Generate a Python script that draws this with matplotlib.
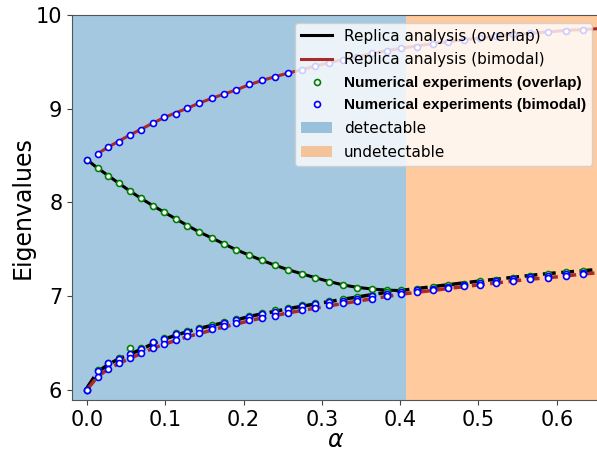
import matplotlib
matplotlib.use("Agg")
import matplotlib.pyplot as plt

# alpha grid of the numerical experiments
alpha = [0.0, 0.0135, 0.0272, 0.0409, 0.0549, 0.0690, 0.0838, 0.0984, 0.1132,
         0.1281, 0.1435, 0.1592, 0.1745, 0.1905, 0.2069, 0.2230, 0.2396, 0.2567,
         0.2741, 0.2916, 0.3091, 0.3271, 0.3454, 0.3641, 0.3828, 0.4016, 0.4216,
         0.4416, 0.4610, 0.4812, 0.5019, 0.5230, 0.5447, 0.5664, 0.5890, 0.6117,
         0.6335]

# upper eigenvalue (bimodal)
upper_bimodal = [8.451, 8.518, 8.596, 8.649, 8.724, 8.777, 8.845, 8.916, 8.948,
                 9.005, 9.065, 9.118, 9.155, 9.200, 9.264, 9.304, 9.336, 9.378,
                 9.410, 9.456, 9.491, 9.520, 9.555, 9.592, 9.616, 9.645, 9.662,
                 9.694, 9.709, 9.733, 9.752, 9.776, 9.794, 9.811, 9.816, 9.833,
                 9.843]

# middle eigenvalue (overlap), only in the detectable phase
middle_overlap = [8.454, 8.366, 8.284, 8.202, 8.116, 8.042, 7.964, 7.897, 7.825,
                  7.751, 7.679, 7.619, 7.559, 7.487, 7.441, 7.383, 7.327, 7.281,
                  7.239, 7.193, 7.150, 7.114, 7.090, 7.079, 7.065]

# lower eigenvalues, numerical experiments
lower_overlap = [6.00, 6.21, 6.29, 6.34, 6.44, 6.44, 6.51, 6.55, 6.60, 6.63, 6.66,
                 6.69, 6.72, 6.76, 6.79, 6.82, 6.85, 6.87, 6.90, 6.93, 6.95, 6.969,
                 6.990, 7.015, 7.040, 7.061, 7.076, 7.097, 7.114, 7.132, 7.157,
                 7.175, 7.196, 7.214, 7.231, 7.253, 7.268]
lower_bimodal_a = [6.00, 6.20, 6.28, 6.33, 6.38, 6.43, 6.51, 6.54, 6.59, 6.62, 6.65,
                   6.67, 6.71, 6.74, 6.78, 6.81, 6.83, 6.86, 6.89, 6.92, 6.94, 6.95,
                   6.97, 6.995, 7.02, 7.04, 7.06, 7.08, 7.10, 7.12, 7.14, 7.16, 7.18,
                   7.20, 7.215, 7.235, 7.25]
lower_bimodal_b = [6.00, 6.14, 6.22, 6.29, 6.34, 6.39, 6.45, 6.49, 6.53, 6.57, 6.61,
                   6.65, 6.68, 6.71, 6.74, 6.77, 6.79, 6.82, 6.85, 6.87, 6.90, 6.926,
                   6.951, 6.972, 6.997, 7.022, 7.044, 7.061, 7.083, 7.104, 7.122,
                   7.140, 7.164, 7.182, 7.196, 7.217, 7.236]

# replica analysis curves
alpha_th = alpha + [0.655]
upper_th = [8.451, 8.52, 8.59, 8.655, 8.72, 8.78, 8.845, 8.905, 8.955, 9.005, 9.06,
            9.11, 9.155, 9.20, 9.255, 9.30, 9.34, 9.38, 9.415, 9.455, 9.49, 9.525,
            9.555, 9.59, 9.62, 9.645, 9.67, 9.695, 9.715, 9.735, 9.755, 9.775,
            9.79, 9.805, 9.82, 9.835, 9.845, 9.855]
middle_th = [8.454, 8.366, 8.284, 8.202, 8.120, 8.042, 7.966, 7.895, 7.825, 7.753,
             7.683, 7.620, 7.558, 7.494, 7.437, 7.382, 7.330, 7.281, 7.238, 7.195,
             7.155, 7.118, 7.092, 7.075, 7.063, 7.058]
lower_ov_th = [6.02, 6.19, 6.27, 6.33, 6.38, 6.43, 6.49, 6.54, 6.58, 6.62, 6.655,
               6.685, 6.715, 6.745, 6.78, 6.81, 6.835, 6.865, 6.89, 6.915, 6.94,
               6.965, 6.99, 7.015, 7.04, 7.06, 7.08, 7.10, 7.12, 7.14, 7.16, 7.18,
               7.20, 7.22, 7.24, 7.255, 7.27, 7.285]
lower_bi_th = [6.0, 6.14, 6.22, 6.28, 6.335, 6.385, 6.44, 6.485, 6.525, 6.565, 6.60,
               6.635, 6.67, 6.70, 6.735, 6.765, 6.79, 6.82, 6.845, 6.87, 6.895, 6.92,
               6.945, 6.97, 6.995, 7.02, 7.04, 7.06, 7.08, 7.10, 7.12, 7.14, 7.16,
               7.18, 7.195, 7.215, 7.235, 7.25]

alpha_c = 0.407

fig = plt.figure(figsize=(5.97, 4.53), dpi=100)
ax = fig.add_axes([72 / 597, 53 / 453, 528 / 597, 385 / 453])

ax.axvspan(-0.1, alpha_c, color="tab:blue", alpha=0.4, lw=0, label="detectable")
ax.axvspan(alpha_c, 1.0, color="tab:orange", alpha=0.4, lw=0, label="undetectable")

red = "#aa2a2a"
mk = dict(ls="none", marker="o", ms=4.3, mew=1.2, mfc="white")

ax.plot(alpha[:len(middle_th)], middle_th, color="black", lw=2.2,
        label="Replica analysis (overlap)")
ax.plot(alpha_th[1:], upper_th[1:], color=red, lw=2.2,
        label="Replica analysis (bimodal)")
ax.plot(alpha_th, lower_ov_th, color="black", lw=2.5, ls="--")
ax.plot(alpha_th, lower_bi_th, color=red, lw=2.5, ls="--")

ax.plot(alpha[:len(middle_overlap)], middle_overlap, mec="green", **mk,
        label="Numerical experiments (overlap)")
ax.plot(alpha, lower_overlap, mec="green", **mk)
ax.plot(alpha, upper_bimodal, mec="blue", **mk,
        label="Numerical experiments (bimodal)")
ax.plot(alpha, lower_bimodal_a, mec="blue", **mk)
ax.plot(alpha, lower_bimodal_b, mec="blue", **mk)

ax.set_xlim(-0.0192, 0.6552)
ax.set_ylim(5.89, 10.0)
ax.set_xticks([0.0, 0.1, 0.2, 0.3, 0.4, 0.5, 0.6])
ax.set_yticks([6, 7, 8, 9, 10])
ax.tick_params(labelsize=15, color="#444444")
for s in ax.spines.values():
    s.set_color("#555555")

ax.set_xlabel(r"$\alpha$", fontsize=17, labelpad=-1)
ax.set_ylabel("Eigenvalues", fontsize=17, labelpad=1)

handles, labels = ax.get_legend_handles_labels()
order = [labels.index(l) for l in ["Replica analysis (overlap)",
                                   "Replica analysis (bimodal)",
                                   "Numerical experiments (overlap)",
                                   "Numerical experiments (bimodal)",
                                   "detectable", "undetectable"]]
leg = ax.legend([handles[i] for i in order], [labels[i] for i in order],
                loc="upper right", fontsize=11, labelspacing=0.56)
for t in leg.get_texts()[2:4]:
    t.set_fontfamily("Liberation Sans")
    t.set_fontweight("bold")

fig.savefig("out.png", dpi=100)
